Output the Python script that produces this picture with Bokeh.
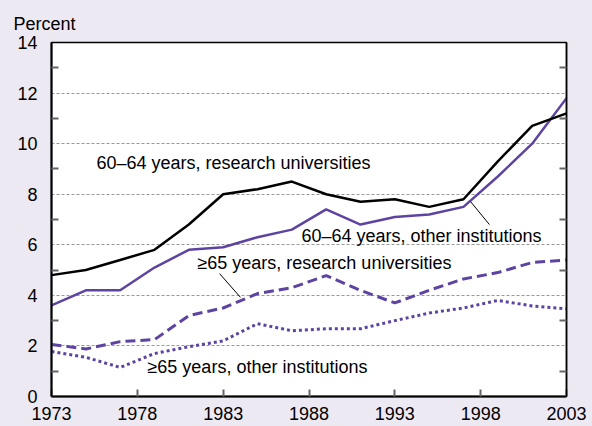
from bokeh.plotting import figure
from bokeh.models import FixedTicker, LinearAxis, Label, Range1d, Title
from bokeh.embed import file_html
from bokeh.resources import INLINE

years = [1973, 1975, 1977, 1979, 1981, 1983, 1985, 1987, 1989, 1991, 1993, 1995, 1997, 1999, 2001, 2003]
res_60_64 = [4.8, 5.0, 5.4, 5.8, 6.8, 8.0, 8.2, 8.5, 8.0, 7.7, 7.8, 7.5, 7.8, 9.3, 10.7, 11.2]
oth_60_64 = [3.6, 4.2, 4.2, 5.1, 5.8, 5.9, 6.3, 6.6, 7.4, 6.8, 7.1, 7.2, 7.5, 8.7, 10.0, 11.8]
res_65 = [2.06, 1.88, 2.17, 2.25, 3.2, 3.5, 4.07, 4.3, 4.78, 4.2, 3.7, 4.2, 4.65, 4.9, 5.3, 5.4]
oth_65 = [1.78, 1.55, 1.15, 1.7, 1.97, 2.2, 2.88, 2.6, 2.68, 2.68, 3.0, 3.3, 3.5, 3.8, 3.58, 3.47]
x_ticks = [1973, 1978, 1983, 1988, 1993, 1998, 2003]
y_ticks = [0, 2, 4, 6, 8, 10, 12, 14]
y_minor = [1, 3, 5, 7, 9, 11, 13]
grid_lines = [2, 4, 6, 8, 10, 12]

BG = "#ECE9F3"
PURPLE = "#5E44A2"
FONT = "Liberation Sans"
FS = "18px"

p = figure(frame_width=515, frame_height=354, output_backend="svg", toolbar_location=None,
           x_range=Range1d(1973, 2003), y_range=Range1d(0, 14),
           min_border_left=51, min_border_right=26, min_border_top=42, min_border_bottom=30)
p.background_fill_color = "white"
p.border_fill_color = BG
p.outline_line_color = "black"
p.outline_line_width = 1.5

p.title = Title(text="Percent", align="left", offset=-38, text_font=FONT, text_font_size=FS,
                text_font_style="normal", text_color="black", standoff=18)

# axes
p.xaxis.ticker = FixedTicker(ticks=x_ticks)
p.yaxis.ticker = FixedTicker(ticks=y_ticks, minor_ticks=y_minor)
for ax in (p.xaxis[0], p.yaxis[0]):
    ax.axis_line_color = "black"
    ax.axis_line_width = 2
    ax.major_label_text_font = FONT
    ax.major_label_text_font_size = FS
    ax.major_label_text_color = "black"
p.xaxis.major_tick_in = 7
p.xaxis.major_tick_out = 0
p.xaxis.major_tick_line_color = "#666666"
p.xaxis.major_tick_line_width = 2
p.xaxis.minor_tick_line_color = None
p.xaxis.major_label_standoff = 10
p.yaxis.major_tick_in = 0
p.yaxis.major_tick_out = 0
p.yaxis.minor_tick_in = 7
p.yaxis.minor_tick_out = 0
p.yaxis.minor_tick_line_color = "#666666"
p.yaxis.minor_tick_line_width = 2
p.yaxis.major_label_standoff = 14

rax = LinearAxis(ticker=FixedTicker(ticks=[], minor_ticks=y_minor))
rax.major_tick_in = 0
rax.major_tick_out = 0
rax.minor_tick_in = 7
rax.minor_tick_out = 0
rax.minor_tick_line_color = "#666666"
rax.minor_tick_line_width = 2
rax.axis_line_color = "black"
rax.axis_line_width = 1.5
p.add_layout(rax, "right")

p.xgrid.grid_line_color = None
p.ygrid.ticker = FixedTicker(ticks=grid_lines)
p.ygrid.grid_line_color = "#999999"
p.ygrid.grid_line_dash = "3 2"
p.ygrid.grid_line_width = 1

# series
p.line(years, oth_65, line_color=PURPLE, line_width=3, line_dash="3 3")
p.line(years, res_65, line_color=PURPLE, line_width=3, line_dash="10 5")
p.line(years, oth_60_64, line_color=PURPLE, line_width=2.5)
p.line(years, res_60_64, line_color="black", line_width=2.5)

# leader lines
p.segment(x0=[1997.41, 1982.79], y0=[7.71, 4.86], x1=[1998.51, 1984.01], y1=[6.80, 3.92],
          line_color="black", line_width=1)

def lab(x, y, t):
    p.add_layout(Label(x=x, y=y, text=t, text_font=FONT, text_font_size=FS,
                       text_color="black", text_baseline="middle", text_align="left"))

lab(1975.62, 9.25, "60\u201364 years, research universities")
lab(1987.56, 6.33, "60\u201364 years, other institutions")
lab(1981.50, 5.26, "\u226565 years, research universities")
lab(1978.59, 1.15, "\u226565 years, other institutions")

html = file_html(p, INLINE)
html = html.replace("<body>", '<body style="background-color:%s;">' % BG)
open("out.html", "w").write(html)
